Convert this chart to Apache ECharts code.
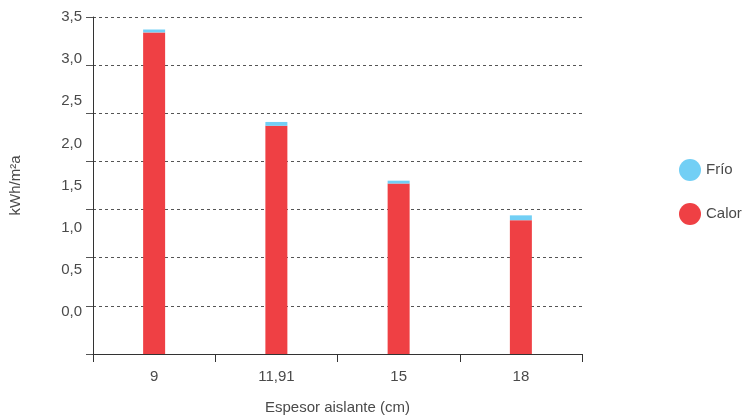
<!DOCTYPE html>
<html><head><meta charset="utf-8">
<script src="https://cdn.jsdelivr.net/npm/echarts@6/dist/echarts.min.js"></script>
<style>html,body{margin:0;padding:0;background:#fff}#c{width:746px;height:420px}</style>
</head><body><div id="c"></div>
<script>
const categories = ['9', '11,91', '15', '18'];
const calor = [3.34, 2.37, 1.77, 1.39];
const frio = [0.03, 0.04, 0.03, 0.05];
const labelTicks = [-0.5, 0, 0.5, 1, 1.5, 2, 2.5, 3, 3.5];

const FONT = 'Liberation Sans';
const TXT = '#4a4a4a';
const chart = echarts.init(document.getElementById('c'));
chart.setOption({
  animation: false,
  textStyle: { fontFamily: FONT },
  grid: { left: 93, right: 164, top: 17, bottom: 63 },
  legend: {
    orient: 'vertical', left: 674, top: 154, itemGap: 22,
    icon: 'circle', itemWidth: 22, itemHeight: 22,
    data: ['Frío', 'Calor'],
    textStyle: { fontSize: 15, color: TXT, fontFamily: FONT }
  },
  xAxis: {
    type: 'category', data: categories,
    name: 'Espesor aislante (cm)', nameLocation: 'middle', nameGap: 46,
    nameTextStyle: { fontSize: 15, color: TXT, fontFamily: FONT },
    axisLine: { lineStyle: { color: '#333', width: 1 } },
    axisTick: { show: true, length: 8, lineStyle: { color: '#333' } },
    axisLabel: { fontSize: 15, color: TXT, margin: 15, fontFamily: FONT },
    z: 10
  },
  yAxis: [{
    type: 'value', min: 0, max: 3.5, interval: 0.5,
    name: 'kWh/m²a', nameLocation: 'middle', nameGap: 70,
    nameTextStyle: { fontSize: 15, color: TXT, fontFamily: FONT },
    axisLine: { show: true, lineStyle: { color: '#333' } },
    axisTick: { show: true, length: 7, lineStyle: { color: '#555' } },
    axisLabel: { show: false },
    splitLine: { show: true, lineStyle: { color: '#555', type: [3, 3], width: 1 } }
  }, {
    type: 'value', min: labelTicks[0], max: labelTicks[labelTicks.length - 1], interval: 0.5,
    position: 'left', offset: 0,
    axisLine: { show: false }, axisTick: { show: false }, splitLine: { show: false },
    axisLabel: {
      fontSize: 15, color: TXT, margin: 11, fontFamily: FONT,
      formatter: v => v < 0 ? '' : v.toFixed(1).replace('.', ',')
    }
  }],
  series: [{
    name: 'Calor', type: 'bar', stack: 't', data: calor, barWidth: 22,
    itemStyle: { color: '#EF4044' }
  }, {
    name: 'Frío', type: 'bar', stack: 't', data: frio, barWidth: 22,
    itemStyle: { color: '#72CFF5' }
  }]
});
</script></body></html>
